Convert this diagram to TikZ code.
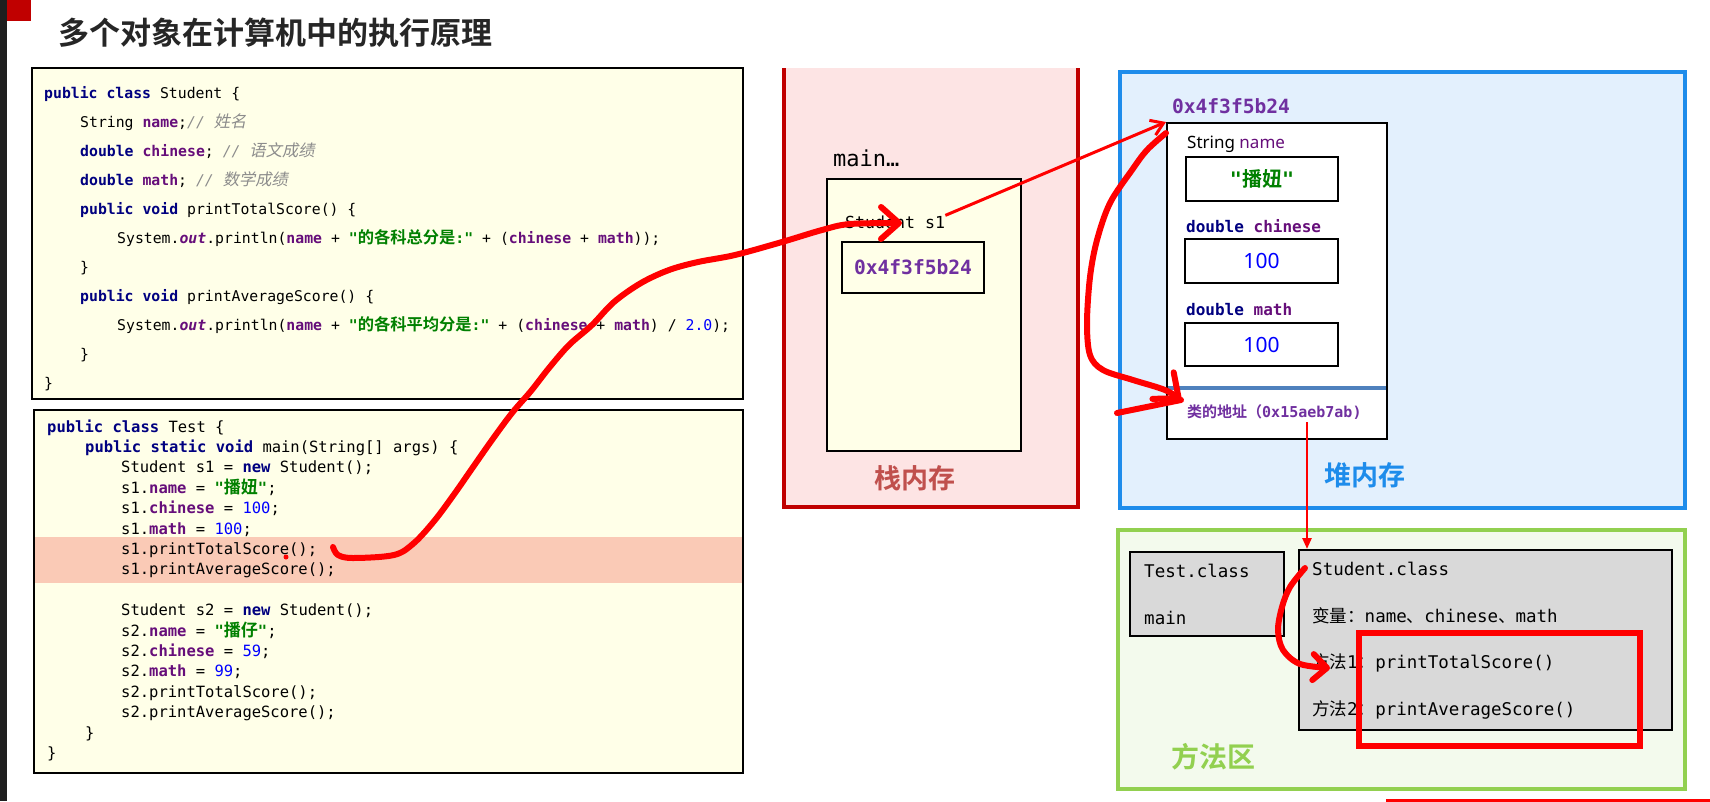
\documentclass[tikz,border=0pt]{standalone}
\usepackage{fontspec}
\setmonofont{DejaVu Sans Mono}
\setsansfont{Noto Sans}
\newfontfamily\cjk[BoldFont={Noto Sans CJK SC Bold}]{Noto Sans CJK SC}
\newfontfamily\cjkc[Scale=1.1,BoldFont={Noto Sans CJK SC Bold}]{Noto Sans CJK SC}
\newfontfamily\cjkit[Scale=1.1,FakeSlant=0.2]{Noto Sans CJK SC}
\usetikzlibrary{arrows.meta}

\definecolor{kwnavy}{RGB}{0,0,128}
\definecolor{fldpurple}{RGB}{102,14,122}
\definecolor{strgreen}{RGB}{0,128,0}
\definecolor{numblue}{RGB}{0,0,255}
\definecolor{cmtgray}{RGB}{140,140,140}
\definecolor{codeyellow}{RGB}{255,255,232}
\definecolor{hlsalmon}{RGB}{250,202,182}
\definecolor{stackpink}{RGB}{253,228,228}
\definecolor{stackred}{RGB}{192,0,0}
\definecolor{stacklbl}{RGB}{192,80,77}
\definecolor{heapfill}{RGB}{227,240,253}
\definecolor{heapblue}{RGB}{30,140,235}
\definecolor{addrpurple}{RGB}{112,48,160}
\definecolor{sepblue}{RGB}{79,129,189}
\definecolor{areagreen}{RGB}{146,208,80}
\definecolor{areafill}{RGB}{243,250,237}
\definecolor{clsgray}{RGB}{217,217,217}
\definecolor{inkred}{RGB}{255,0,0}
\definecolor{titlegray}{RGB}{38,38,38}

% code colouring
\newcommand\kw[1]{\textcolor{kwnavy}{\bfseries #1}}
\newcommand\fld[1]{\textcolor{fldpurple}{\bfseries #1}}
\newcommand\outf[1]{\textcolor{fldpurple}{\bfseries\itshape #1}}
\newcommand\jstr[1]{\textcolor{strgreen}{\bfseries #1}}
\newcommand\jnum[1]{\textcolor{numblue}{#1}}
\newcommand\cmt[1]{\textcolor{cmtgray}{\itshape #1}}
\newcommand\zhc[1]{{\cjkc #1}}
\newcommand\zhi[1]{{\cjkit #1}}
\newcommand\fs[1]{\fontsize{#1}{#1}\selectfont}

\begin{document}
\begin{tikzpicture}[x=1pt, y=-1pt,
  code/.style={anchor=base west, inner sep=0, font=\ttfamily\fs{14.8}},
  tcode/.style={anchor=base west, inner sep=0, font=\ttfamily\fs{15.5}},
  lbl/.style={anchor=west, inner sep=0},
  ink/.style={inkred, line width=6, line cap=round, line join=round},
  cell/.style={draw, line width=2}]
  \useasboundingbox (0,0) rectangle (1710,801);
  \fill[white] (0,0) rectangle (1710,801);
  % title bar
  \fill[black!88] (0,0) rectangle (7,801);
  \fill[stackred] (7,0) rectangle (31,21);
  \node[lbl, text=titlegray, font=\cjk\bfseries\fs{31}] (title) at (58,33) {多个对象在计算机中的执行原理};

  % Student.java
  \draw[line width=1.5, fill=codeyellow] (32,68) rectangle (743,399);
  \node[code] (st1) at (44,98) {\kw{public} \kw{class} Student \{};
  \node[code] (st2) at (80,127) {String \fld{name};\cmt{// \zhi{姓名}}};
  \node[code] (st3) at (80,156) {\kw{double} \fld{chinese}; \cmt{// \zhi{语文成绩}}};
  \node[code] (st4) at (80,185) {\kw{double} \fld{math}; \cmt{// \zhi{数学成绩}}};
  \node[code] (st5) at (80,214) {\kw{public} \kw{void} printTotalScore() \{};
  \node[code] (st6) at (117,243) {System.\outf{out}.println(\fld{name} + \jstr{"\zhc{的各科总分是}:"} + (\fld{chinese} + \fld{math}));};
  \node[code] (st7) at (80,272) {\}};
  \node[code] (st8) at (80,301) {\kw{public} \kw{void} printAverageScore() \{};
  \node[code] (st9) at (117,330) {System.\outf{out}.println(\fld{name} + \jstr{"\zhc{的各科平均分是}:"} + (\fld{chinese} + \fld{math}) / \jnum{2.0});};
  \node[code] (st10) at (80,359) {\}};
  \node[code] (st11) at (44,388) {\}};

  % Test.java
  \draw[line width=1.5, fill=codeyellow] (34,410) rectangle (743,773);
  \fill[hlsalmon] (35,537) rectangle (742,583);
  \node[tcode] (t1) at (47,432) {\kw{public} \kw{class} Test \{};
  \node[tcode] (t2) at (85,452.4) {\kw{public} \kw{static} \kw{void} main(String[] args) \{};
  \node[tcode] (t3) at (121,472.8) {Student s1 = \kw{new} Student();};
  \node[tcode] (t4) at (121,493.2) {s1.\fld{name} = \jstr{"\zhc{播妞}"};};
  \node[tcode] (t5) at (121,513.6) {s1.\fld{chinese} = \jnum{100};};
  \node[tcode] (t6) at (121,534) {s1.\fld{math} = \jnum{100};};
  \node[tcode] (t7) at (121,554.4) {s1.printTotalScore();};
  \node[tcode] (t8) at (121,574.8) {s1.printAverageScore();};
  \node[tcode] (t9) at (121,615.6) {Student s2 = \kw{new} Student();};
  \node[tcode] (t10) at (121,636) {s2.\fld{name} = \jstr{"\zhc{播仔}"};};
  \node[tcode] (t11) at (121,656.4) {s2.\fld{chinese} = \jnum{59};};
  \node[tcode] (t12) at (121,676.8) {s2.\fld{math} = \jnum{99};};
  \node[tcode] (t13) at (121,697.2) {s2.printTotalScore();};
  \node[tcode] (t14) at (121,717.6) {s2.printAverageScore();};
  \node[tcode] (t15) at (85,738) {\}};
  \node[tcode] (t16) at (47,758.4) {\}};

  % stack
  \fill[stackpink] (784,68) rectangle (1078,507);
  \draw[stackred, line width=4] (784,68) -- (784,507) -- (1078,507) -- (1078,68);
  \node[lbl, font=\ttfamily\fs{22}] (mainlbl) at (833,158) {main…};
  \draw[line width=2, fill=codeyellow] (827,179) rectangle (1021,451);
  \node[lbl, font=\ttfamily\fs{16.6}] (s1var) at (845,222) {Student s1};
  \node[cell, fill=codeyellow, minimum width=142, minimum height=51, text=addrpurple, font=\ttfamily\bfseries\fs{19.6}] (s1addr) at (913,267.5) {0x4f3f5b24};
  \node[text=stacklbl, font=\cjk\bfseries\fs{27}] (stacklbl) at (915,478) {栈内存};

  % heap
  \draw[heapblue, line width=4, fill=heapfill] (1120,72) rectangle (1685,508);
  \node[text=addrpurple, font=\ttfamily\bfseries\fs{19.6}] (heapaddr) at (1231,106) {0x4f3f5b24};
  \node[cell, fill=white, minimum width=220, minimum height=316] (obj) at (1277,281) {};
  \node[lbl, font=\sffamily\fs{17}] (namelbl) at (1187,144) {String \textcolor{fldpurple}{name}};
  \node[cell, minimum width=152, minimum height=44, text=strgreen, font=\ttfamily\bfseries\fs{20}] (namebox) at (1262,179) {"{\cjk 播妞}"};
  \node[lbl, font=\ttfamily\bfseries\fs{16}] (chnlbl) at (1186,226) {\textcolor{kwnavy}{double} \textcolor{fldpurple}{chinese}};
  \node[cell, minimum width=153, minimum height=44, text=numblue, font=\sffamily\fs{21}] (chnbox) at (1261.5,261) {100};
  \node[lbl, font=\ttfamily\bfseries\fs{16}] (mathlbl) at (1186,310) {\textcolor{kwnavy}{double} \textcolor{fldpurple}{math}};
  \node[cell, minimum width=153, minimum height=43, text=numblue, font=\sffamily\fs{21}] (mathbox) at (1261.5,344.5) {100};
  \draw[sepblue, line width=4] (1168,388) -- (1386,388);
  \node[lbl, text=addrpurple, font=\bfseries\fs{15}] (clsaddr) at (1187,412) {{\cjk 类的地址（}{\ttfamily 0x15aeb7ab)}};
  \node[text=heapblue, font=\cjk\bfseries\fs{27}] (heaplbl) at (1365,475) {堆内存};

  % method area
  \draw[areagreen, line width=4, fill=areafill] (1118,530) rectangle (1685,789);
  \node[cell, fill=clsgray, minimum width=154, minimum height=84] (testcls) at (1207,594) {};
  \node[lbl, font=\ttfamily\fs{17.5}] (testname) at (1144,571) {Test.class};
  \node[lbl, font=\ttfamily\fs{17.5}] (testmain) at (1144,618) {main};
  \node[cell, fill=clsgray, minimum width=373, minimum height=180] (stucls) at (1485.5,640) {};
  \node[lbl, font=\ttfamily\fs{17.5}] (stuname) at (1312,569) {Student.class};
  \node[lbl, font=\ttfamily\fs{17.5}] (stuvars) at (1312,616) {{\cjk 变量：}name{\cjk 、}chinese{\cjk 、}math};
  \node[lbl, font=\ttfamily\fs{17.5}] (stum1) at (1312,663) {{\cjk 方法}1{\cjk ：}printTotalScore()};
  \node[lbl, font=\ttfamily\fs{17.5}] (stum2) at (1312,710) {{\cjk 方法}2{\cjk ：}printAverageScore()};
  \draw[inkred, line width=6] (1359,633) rectangle (1640,746);
  \node[text=areagreen, font=\cjk\bfseries\fs{28}] (arealbl) at (1213,757) {方法区};
  \draw[inkred, line width=4] (1386,801) -- (1710,801);

  % hand-drawn pointers
  \coordinate (callpt) at (333,547);
  \coordinate (s1tip) at (902,223);
  \coordinate (loopstart) at (1166,133);
  \coordinate (looptip) at (1181,400);
  \coordinate (loopend) at (1117,413);
  \coordinate (clsref) at (1307,422);
  \coordinate (mstart) at (1305,568);
  \coordinate (mtip) at (1330,668);
  \fill[inkred] (286,557) circle (2.5pt);
  \draw[ink, -{Straight Barb[round, length=18pt, width=32pt]}] plot[smooth, tension=0.55] coordinates {(callpt) (338,555) (353,558) (394,555) (414,543) (435,520) (455,493) (471,470) (492,440) (512,413) (531,391) (549,368) (569,345) (592,325) (614,302) (641,283) (669,270) (698,262) (735,255) (782,242) (822,230) (850,224) (s1tip)};
  \draw[inkred, line width=3, -{Straight Barb[length=12pt, width=16pt]}] (s1var.north east) -- (obj.north west);
  \draw[ink, -{Straight Barb[round, length=20pt, width=34pt]}] plot[smooth, tension=0.55] coordinates {(loopstart) (1147,150) (1132,170) (1110,203) (1097,240) (1090,277) (1087,323) (1090,355) (1103,370) (1133,380) (1165,390) (looptip)};
  \draw[ink] (looptip) -- (loopend);
  \draw[inkred, line width=2.5, -{Triangle[length=11pt, width=9pt]}] (clsref) -- (clsref |- stucls.north);
  \draw[ink, -{Straight Barb[round, length=14pt, width=26pt]}] plot[smooth, tension=0.55] coordinates {(mstart) (1290,587) (1282,607) (1278,630) (1283,650) (1300,664) (mtip)};
\end{tikzpicture}
\end{document}
